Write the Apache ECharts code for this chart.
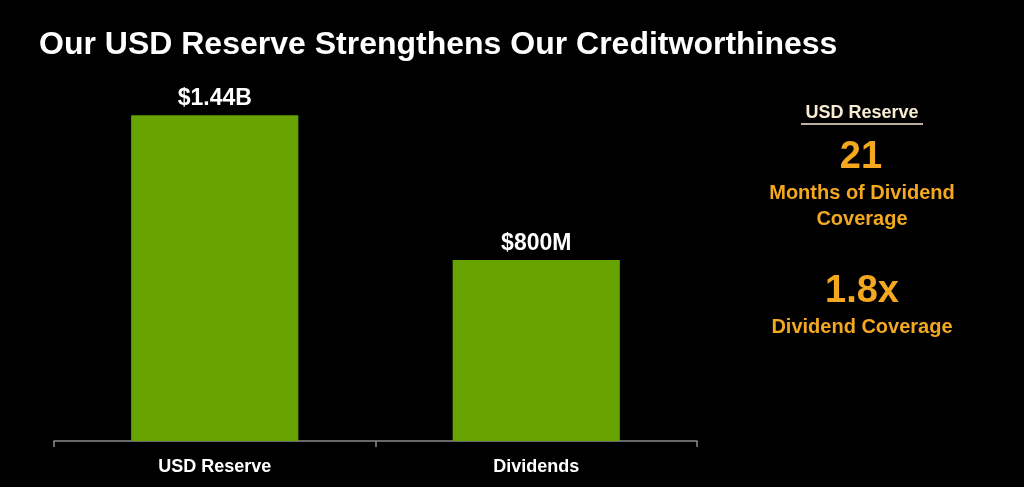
<!DOCTYPE html>
<html><head><meta charset="utf-8">
<script src="https://cdn.jsdelivr.net/npm/echarts@6/dist/echarts.min.js"></script>
<style>html,body{margin:0;padding:0;background:#000;}#c{width:1024px;height:487px;}</style>
</head><body><div id="c"></div>
<script>
const categories = ['USD Reserve', 'Dividends'];
const valuesBillions = [1.44, 0.8];
const valueLabels = ['$1.44B', '$800M'];
const sideHeading = 'USD Reserve';
const sideStats = [
  { value: '21', caption: ['Months of Dividend', 'Coverage'] },
  { value: '1.8x', caption: ['Dividend Coverage'] }
];

const FONT = '"Liberation Sans", Arial, sans-serif';
const ORANGE = '#f3a81f';
const chart = echarts.init(document.getElementById('c'));

function centered(text, x, y, size, fill) {
  return { type: 'text', x: x, y: y, style: { text: text, fill: fill, font: 'bold ' + size + 'px ' + FONT, textAlign: 'center', textVerticalAlign: 'middle' } };
}

const graphics = [
  centered(sideHeading, 862, 113, 18, '#f7ecd2'),
  { type: 'line', shape: { x1: 801, y1: 124, x2: 923, y2: 124 }, style: { stroke: '#f7ecd2', lineWidth: 1.5 } },
  centered(sideStats[0].value, 861, 158, 38, ORANGE),
  centered(sideStats[0].caption[0], 862, 193, 20, ORANGE),
  centered(sideStats[0].caption[1], 862, 219, 20, ORANGE),
  centered(sideStats[1].value, 862, 292, 38, ORANGE),
  centered(sideStats[1].caption[0], 862, 327, 20, ORANGE)
];

chart.setOption({
  backgroundColor: '#000',
  animation: false,
  title: {
    text: 'Our USD Reserve Strengthens Our Creditworthiness',
    left: 34, top: 24,
    textStyle: { color: '#fff', fontSize: 32, fontWeight: 'bold', fontFamily: FONT }
  },
  grid: { left: 54, right: 1024 - 697, top: 79, bottom: 46 },
  xAxis: {
    type: 'category',
    data: categories,
    axisLine: { lineStyle: { color: '#8a8a8a', width: 1.5 } },
    axisTick: { show: true, length: 6, lineStyle: { color: '#8a8a8a', width: 1.5 } },
    axisLabel: { color: '#fff', fontSize: 18, fontWeight: 'bold', fontFamily: FONT, margin: 17 }
  },
  yAxis: { type: 'value', min: 0, max: 1.6, show: false, splitLine: { show: false } },
  series: [{
    type: 'bar',
    data: valuesBillions,
    barWidth: '52%',
    itemStyle: { color: '#66a300' },
    label: {
      show: true, position: 'top', distance: 5,
      formatter: p => valueLabels[p.dataIndex],
      color: '#fff', fontSize: 23, fontWeight: 'bold', fontFamily: FONT
    }
  }],
  graphic: graphics
});
</script></body></html>
